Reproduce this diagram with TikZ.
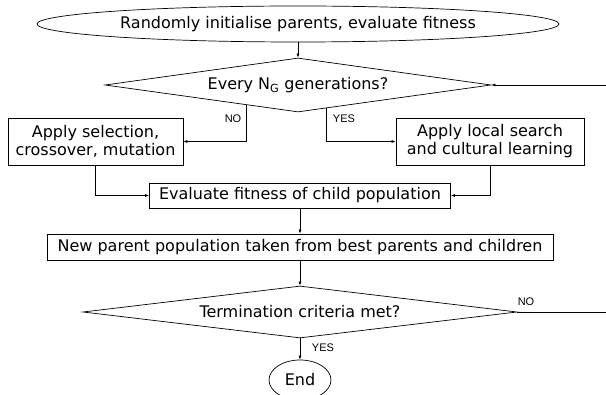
\documentclass[tikz,border=0pt]{standalone}
\usepackage{fontspec}
\setmainfont{DejaVu Sans}
\newfontfamily\labelfont{Liberation Sans}
\usepackage{tikz}
\usetikzlibrary{shapes.geometric,arrows.meta}

\begin{document}
\begin{tikzpicture}[x=1pt, y=-1pt, line width=0.7pt,
    box/.style={draw, rectangle, inner sep=0pt, align=center, font=\fontsize{16}{18}\selectfont},
    choice/.style={draw, diamond, aspect=7, inner sep=0pt, font=\fontsize{16}{18}\selectfont},
    oval/.style={draw, ellipse, inner sep=0pt, font=\fontsize{16}{18}\selectfont},
    lab/.style={font=\labelfont\fontsize{11}{12}\selectfont, inner sep=0pt},
    >={Latex[length=4pt, width=3pt]}]
    \useasboundingbox (0,0) rectangle (606,395);
    \node[oval, minimum width=522pt, minimum height=36pt, inner xsep=-6pt] (init) at (298,24) {Randomly initialise parents, evaluate fitness};
    \node[choice, minimum width=386pt, minimum height=54pt] (every) at (298,85) {Every N\textsubscript{G} generations?};
    \node[box, minimum width=175pt, minimum height=47pt] (select) at (95.5,141.5) {Apply selection,\\crossover, mutation};
    \node[box, minimum width=188pt, minimum height=47pt] (learn) at (490,141.5) {Apply local search\\and cultural learning};
    \node[box, minimum width=301pt, minimum height=25pt] (evaluate) at (300,195.5) {Evaluate fitness of child population};
    \node[box, minimum width=506pt, minimum height=26pt] (newpop) at (300,247) {New parent population taken from best parents and children};
    \node[choice, minimum width=434pt, minimum height=52pt] (term) at (300,312) {Termination criteria met?};
    \node[oval, minimum width=62pt, minimum height=40pt] (stop) at (300,380) {End};
    \coordinate (loopin) at (606,85);
    \coordinate (loopout) at (606,312);
    \node[lab] (no1) at (233,119) {NO};
    \node[lab] (yes1) at (344,119) {YES};
    \node[lab] (yes2) at (323,348) {YES};
    \node[lab] (no2) at (526,302) {NO};
    \draw[->] (init) -- (every);
    \draw[->] (loopin) -- (every.east);
    \draw[->] (every.201.8) |- (select.east);
    \draw[->] (every.321.7) |- (learn.west);
    \draw[->] (select.south) |- (evaluate.west);
    \draw[->] (learn.south) |- (evaluate.east);
    \draw[->] (evaluate) -- (newpop);
    \draw[->] (newpop) -- (term);
    \draw[->] (term) -- (stop);
    \draw (term.east) -- (loopout);
\end{tikzpicture}
\end{document}
